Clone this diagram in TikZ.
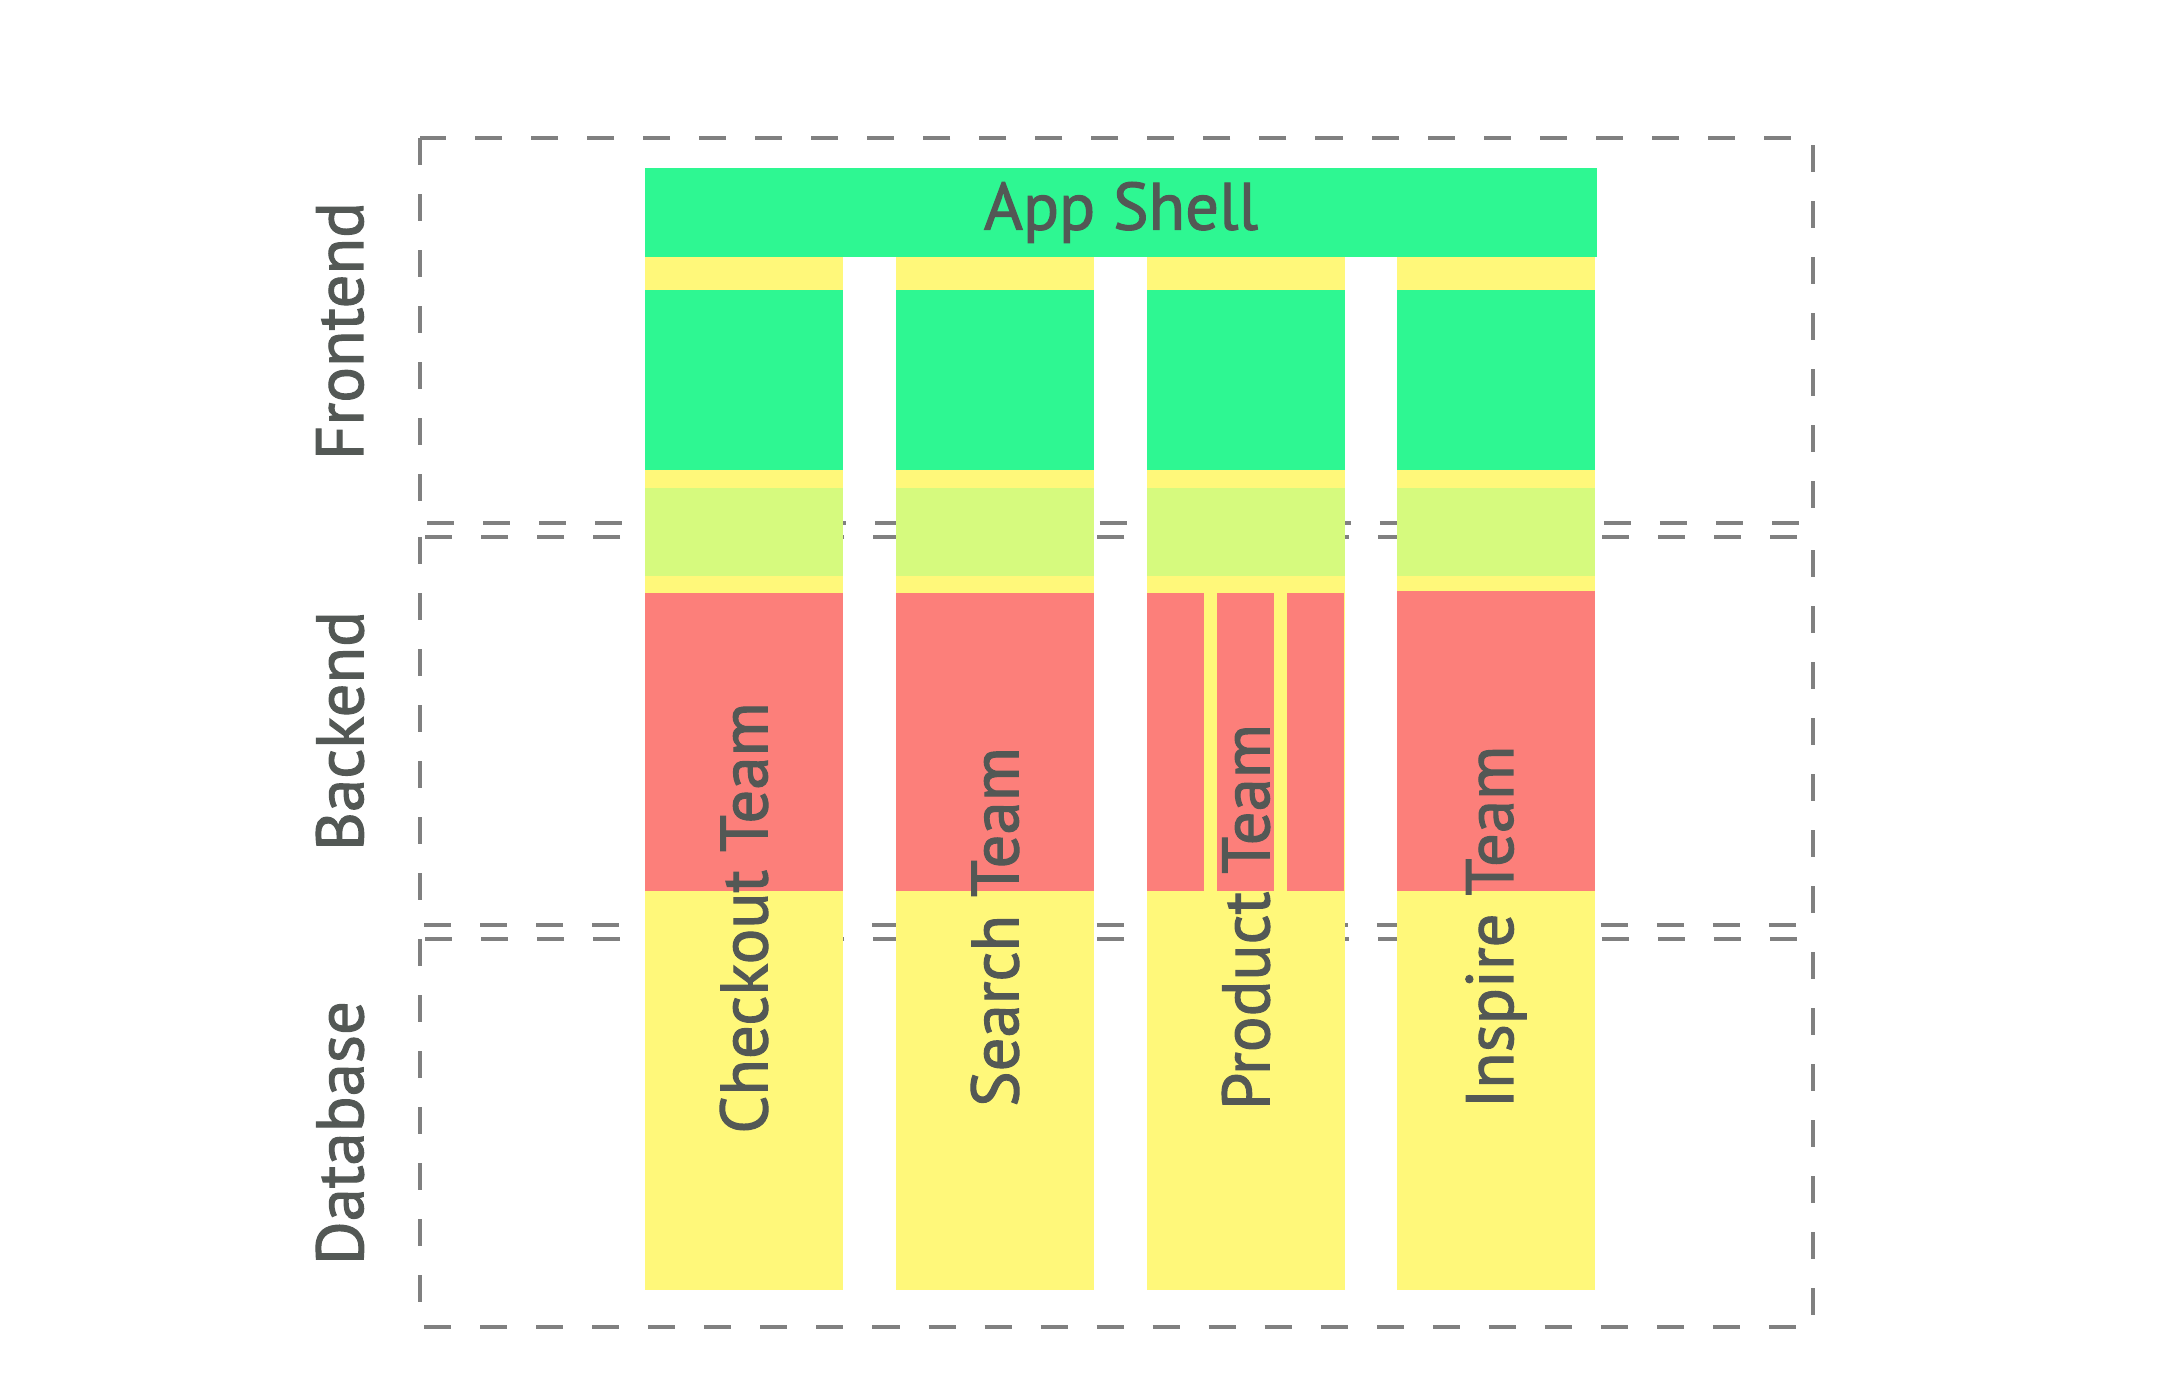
\documentclass[tikz,border=0pt]{standalone}
\usepackage{fontspec}
\setmainfont{PT Sans}
\newfontfamily\dinfont{PT Sans}[FakeBold=1.6]
\definecolor{shellgreen}{HTML}{2EF792}
\definecolor{teamyellow}{HTML}{FFF87A}
\definecolor{apigreen}{HTML}{D6FA7E}
\definecolor{backred}{HTML}{FC7F7A}
\definecolor{linegray}{HTML}{808080}
\definecolor{textgray}{HTML}{535855}
\tikzset{
  layerbox/.style={draw=linegray, line width=1.3pt, dash pattern=on 0.27cm off 0.29cm},
  layerlabel/.style={rotate=90, text=textgray, font=\dinfont\fontsize{19}{23}\selectfont},
  teamlabel/.style={rotate=90, text=textgray, font=\dinfont\fontsize{19}{23}\selectfont},
}
\begin{document}
\begin{tikzpicture}[x=0.01cm, y=-0.01cm]
  \useasboundingbox (0,0) rectangle (2160,1398);
  % layers
  \draw[layerbox] (420,138) rectangle (1813,523);
  \draw[layerbox] (420,537) rectangle (1813,925);
  \draw[layerbox] (420,939) rectangle (1813,1327);
  \node[layerlabel] (frontend) at (340,331) {Frontend};
  \node[layerlabel] (backend) at (340,731) {Backend};
  \node[layerlabel] (database) at (340,1133) {Database};
  % app shell
  \node[fill=shellgreen, text=textgray, minimum width=9.52cm, minimum height=0.89cm,
        font=\dinfont\fontsize{19}{23}\selectfont] (shell) at (1121,212.5) {App Shell};
  % team columns
  \foreach \x/\name in {645/checkout, 896/search, 1147/product, 1397/inspire} {
    \fill[teamyellow] (\x,257) rectangle ++(198,1033);
    \fill[shellgreen] (\x,290) rectangle ++(198,180);
    \fill[apigreen] (\x,488) rectangle ++(198,88);
  }
  \fill[backred] (645,593) rectangle ++(198,298);
  \fill[backred] (896,593) rectangle ++(198,298);
  \fill[backred] (1147,593) rectangle ++(57,298);
  \fill[backred] (1217,593) rectangle ++(57,298);
  \fill[backred] (1287,593) rectangle ++(57,298);
  \fill[backred] (1397,591) rectangle ++(198,300);
  \node[teamlabel] (checkout) at (744,918) {Checkout Team};
  \node[teamlabel] (search) at (995,927) {Search Team};
  \node[teamlabel] (product) at (1246,917) {Product Team};
  \node[teamlabel] (inspire) at (1496,927) {Inspire Team};
\end{tikzpicture}
\end{document}
